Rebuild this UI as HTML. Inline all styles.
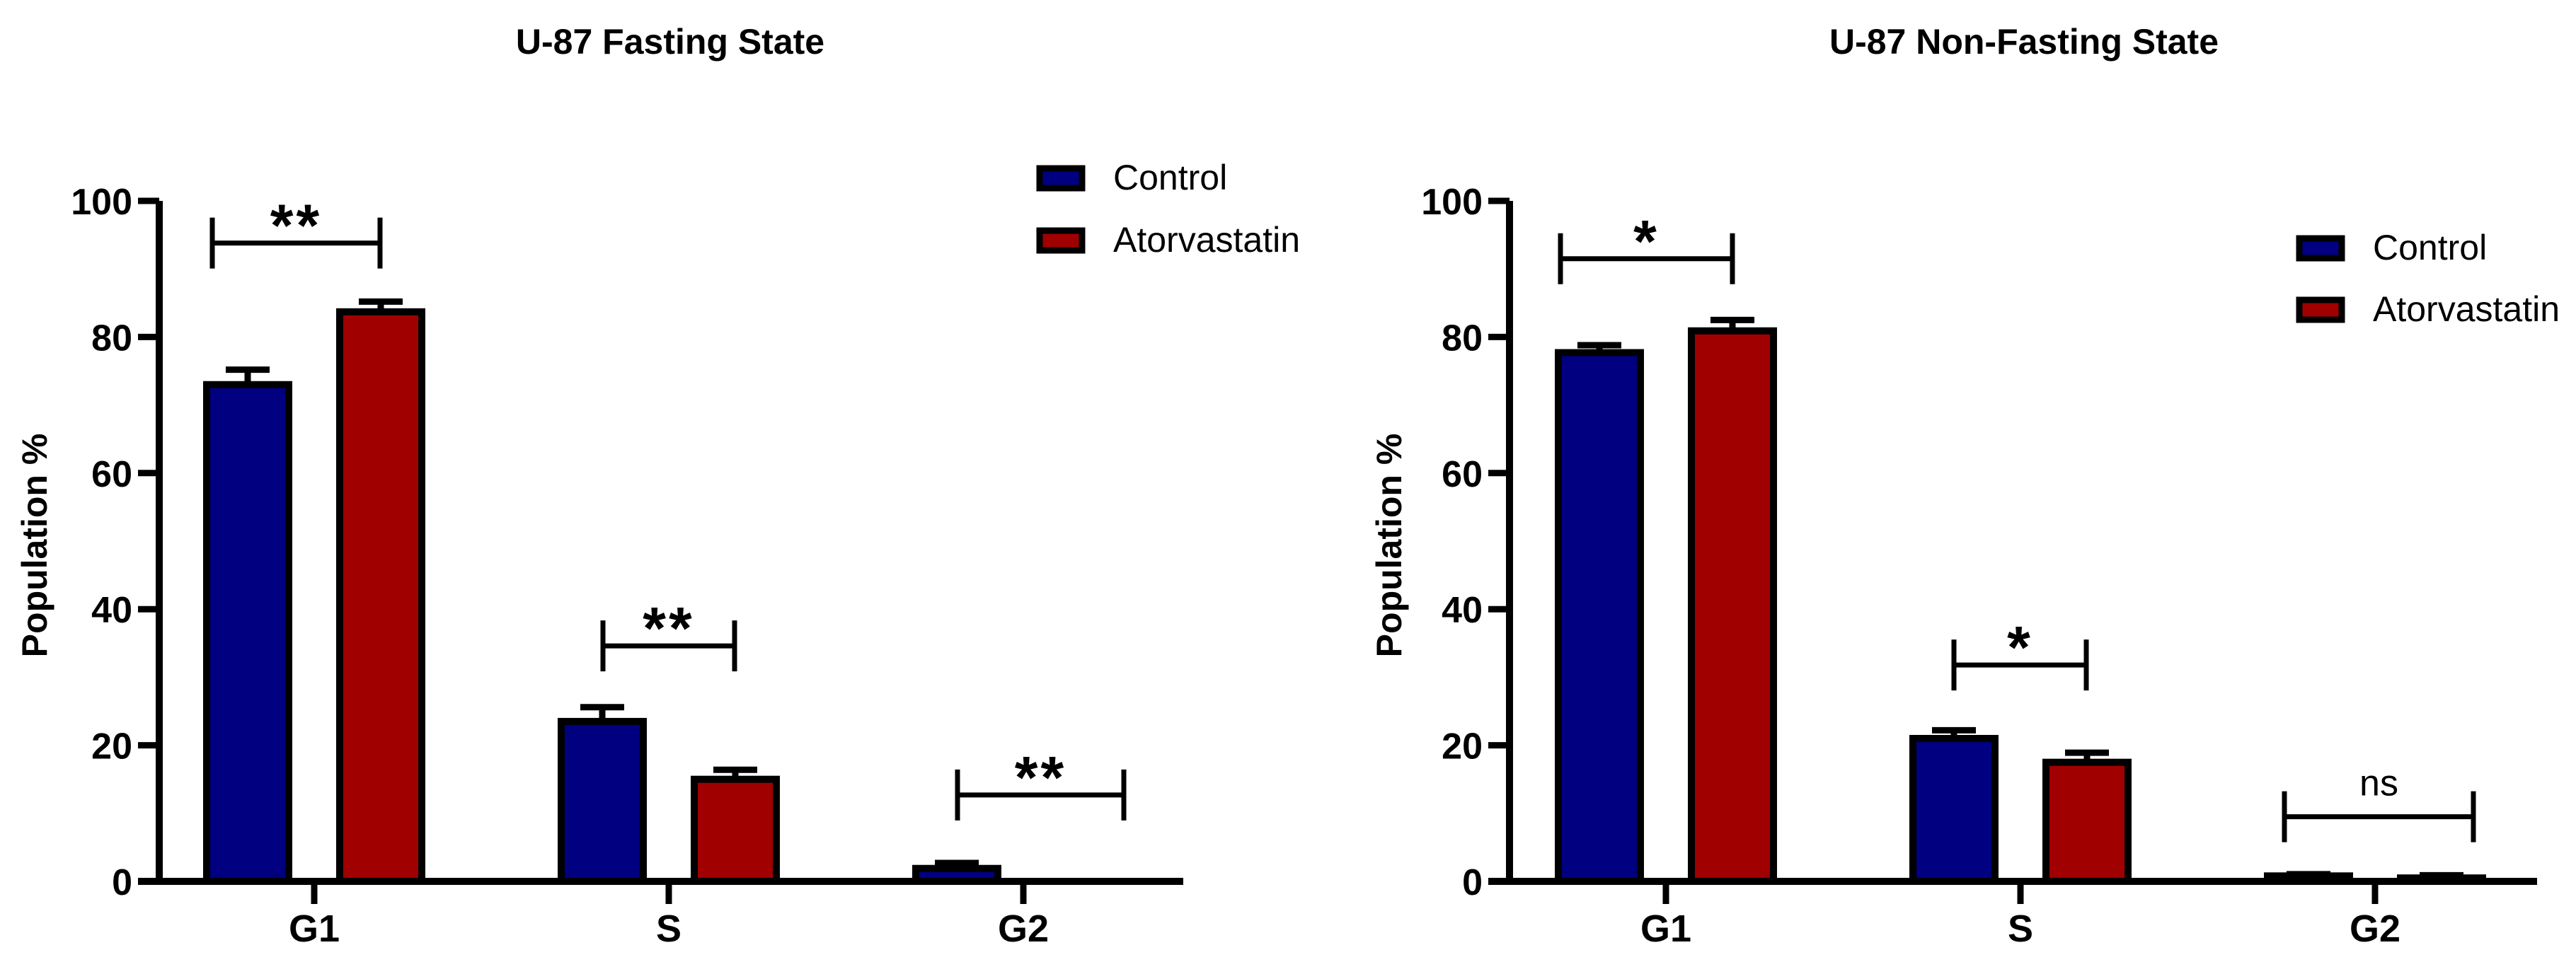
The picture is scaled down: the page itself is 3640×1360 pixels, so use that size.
<!DOCTYPE html>
<html><head><meta charset="utf-8"><style>
html,body{margin:0;padding:0;background:#fff;}
svg{display:block;font-family:"Liberation Sans",Arial,sans-serif;}
</style></head><body>
<svg id="chart" width="3640" height="1360" viewBox="0 0 3640 1360" xmlns="http://www.w3.org/2000/svg"></svg>
<script>
const categories = ["G1", "S", "G2"];
const seriesNames = ["Control", "Atorvastatin"];
const yTicks = [0, 20, 40, 60, 80, 100];
const yTickLabels = ["0", "20", "40", "60", "80", "100"];
const fastingControl = [73, 23.5, 1.9];
const fastingControlErr = [2.2, 2.1, 0.8];
const fastingAtorva = [83.7, 15.0, 0];
const fastingAtorvaErr = [1.5, 1.4, 0];
const fastingSig = ["**", "**", "**"];
const fastingSigY = [93.8, 34.6, 12.7];
const nonFastingControl = [77.7, 21.0, 0.8];
const nonFastingControlErr = [1.1, 1.2, 0.25];
const nonFastingAtorva = [80.9, 17.5, 0.5];
const nonFastingAtorvaErr = [1.6, 1.4, 0.4];
const nonFastingSig = ["*", "*", "ns"];
const nonFastingSigY = [91.5, 31.8, 9.5];

const NS = "http://www.w3.org/2000/svg";
const svg = document.getElementById("chart");
function mk(tag, attrs, parent) {
  const e = document.createElementNS(NS, tag);
  for (const k in attrs) e.setAttribute(k, attrs[k]);
  (parent || svg).appendChild(e);
  return e;
}
const colors = ["#000080", "#a00000"];

function panel(p) {
  const g = mk("g", {});
  
  
  const y0 = 1246, y100 = 284;
  const yS = v => y0 - (v / 100) * (y0 - y100);
  const xS = i => p.firstCat + i * p.catStep;
  const off = 94, bw = 116;

  const t = mk("text", {x: p.titleX, y: 76, "text-anchor": "middle", "font-size": 50, "font-weight": "bold"}, g);
  t.textContent = p.title;
  
  

  const yt = mk("text", {x: 0, y: 0, "text-anchor": "middle", "font-size": 50, "font-weight": "bold",
    transform: `translate(${p.yTitleX},771) rotate(-90)`}, g);
  yt.textContent = "Population %";
  
  

  const sets = [[p.ctl, p.ctlErr], [p.ato, p.atoErr]];
  sets.forEach((s, si) => {
    categories.forEach((c, i) => {
      const cx = xS(i) + (si === 0 ? -off : off);
      const v = s[0][i], e = s[1][i];
      if (v <= 0) return;
      if (e > 0) {
        const el = mk("path", {d: `M${cx},${yS(v)} V${yS(v + e)} M${cx - 31},${yS(v + e)} H${cx + 31}`,
          stroke: "#000", "stroke-width": 9, fill: "none"}, g);
        
        
      }
      const r = mk("rect", {x: cx - bw / 2, y: yS(v), width: bw, height: y0 - yS(v),
        fill: colors[si], stroke: "#000", "stroke-width": 10}, g);
      
      
    });
  });

  const ax = mk("path", {d: `M${p.axisX},${y100} V${y0} M${p.axisX - 30},${y0} H${p.axisEnd}`,
    stroke: "#000", "stroke-width": 10, fill: "none"}, g);
  
  
  yTicks.forEach((v, i) => {
    const tk = mk("line", {x1: p.axisX - 30, x2: p.axisX, y1: yS(v), y2: yS(v), stroke: "#000", "stroke-width": 9}, g);
    
    
    const l = mk("text", {x: p.axisX - 38, y: yS(v) + 19, "text-anchor": "end", "font-size": 52, "font-weight": "bold"}, g);
    l.textContent = yTickLabels[i];
    
    
  });
  categories.forEach((c, i) => {
    const tk = mk("line", {x1: xS(i), x2: xS(i), y1: y0, y2: 1278, stroke: "#000", "stroke-width": 9}, g);
    
    
    const l = mk("text", {x: xS(i), y: 1331, "text-anchor": "middle", "font-size": 54, "font-weight": "bold"}, g);
    l.textContent = c;
    
    
  });

  categories.forEach((c, i) => {
    const x1 = xS(i) + p.brk[i][0], x2 = xS(i) + p.brk[i][1], y = yS(p.sigY[i]);
    const b = mk("path", {d: `M${x1},${y - 36} V${y + 36} M${x1},${y} H${x2} M${x2},${y - 36} V${y + 36}`,
      stroke: "#000", "stroke-width": 7, fill: "none"}, g);
    
    
    const isNs = p.sig[i] === "ns";
    const s = mk("text", {x: (x1 + x2) / 2, y: y - (isNs ? 30 : -4), "text-anchor": "middle",
      "font-size": isNs ? 52 : 84, "font-weight": isNs ? "normal" : "bold", "letter-spacing": isNs ? 0 : 4}, g);
    s.textContent = p.sig[i];
    
    
  });

  seriesNames.forEach((n, si) => {
    const ly = p.legY + si * p.legStep;
    const sw = mk("rect", {x: p.legX + 4, y: ly - 30, width: 60, height: 28, fill: colors[si], stroke: "#000", "stroke-width": 9}, g);
    
    
    const tx = mk("text", {x: p.legX + 108, y: ly, "font-size": 50}, g);
    tx.textContent = n;
    
    
  });
}

panel({id: "fasting-panel", title: "U-87 Fasting State", titleX: 947, yTitleX: 66,
  axisX: 225, axisEnd: 1672, firstCat: 444, catStep: 501,
  ctl: fastingControl, ctlErr: fastingControlErr, ato: fastingAtorva, atoErr: fastingAtorvaErr,
  sig: fastingSig, sigY: fastingSigY, brk: [[-144, 93], [-93, 93], [-93, 142]],
  legX: 1465, legY: 268, legStep: 88});
panel({id: "non-fasting-panel", title: "U-87 Non-Fasting State", titleX: 2860, yTitleX: 1980,
  axisX: 2133, axisEnd: 3585, firstCat: 2354, catStep: 501,
  ctl: nonFastingControl, ctlErr: nonFastingControlErr, ato: nonFastingAtorva, atoErr: nonFastingAtorvaErr,
  sig: nonFastingSig, sigY: nonFastingSigY, brk: [[-149, 94], [-94, 93], [-128, 139]],
  legX: 3245, legY: 367, legStep: 87});
</script>
</body></html>
